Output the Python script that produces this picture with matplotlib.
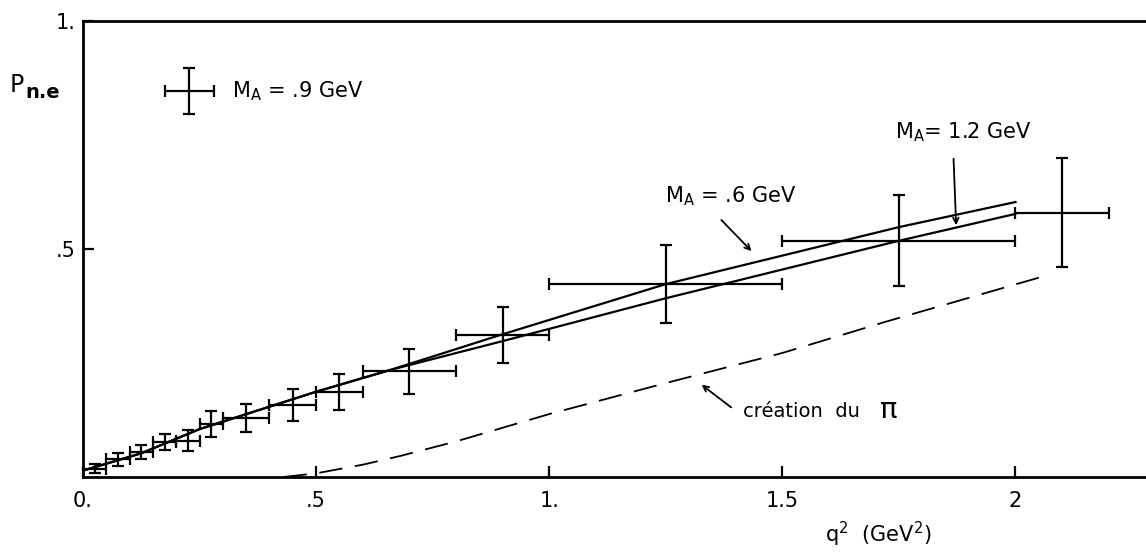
import matplotlib
matplotlib.use('Agg')
import matplotlib.pyplot as plt

plt.rcParams['font.family'] = ['DejaVu Sans']
plt.rcParams['mathtext.default'] = 'regular'

# points de mesure (M_A = .9 GeV)
q2 = [0.025, 0.075, 0.125, 0.175, 0.225, 0.275, 0.35, 0.45, 0.55, 0.7, 0.9, 1.25, 1.75, 2.1]
q2_err = [0.025, 0.025, 0.025, 0.025, 0.025, 0.025, 0.05, 0.05, 0.05, 0.1, 0.1, 0.25, 0.25, 0.1]
p_ne = [0.018, 0.039, 0.055, 0.077, 0.079, 0.116, 0.129, 0.158, 0.186, 0.232, 0.311, 0.423, 0.518, 0.58]
p_err = [0.01, 0.014, 0.016, 0.018, 0.023, 0.028, 0.031, 0.036, 0.04, 0.049, 0.062, 0.085, 0.10, 0.12]

# courbes theoriques
q2_ma06 = [0.0, 0.125, 0.25, 0.5, 0.66, 0.9, 1.25, 1.75, 2.0]
p_ma06 = [0.014, 0.052, 0.105, 0.187, 0.235, 0.313, 0.423, 0.548, 0.603]
q2_ma12 = [0.0, 0.125, 0.25, 0.5, 0.66, 0.9, 1.25, 1.75, 2.0]
p_ma12 = [0.014, 0.052, 0.105, 0.187, 0.235, 0.298, 0.392, 0.518, 0.577]

# creation du pi (tirets)
q2_pi = [0.43, 0.5, 0.6, 0.68, 0.8, 1.0, 1.25, 1.5, 1.72, 2.06]
p_pi = [0.0, 0.008, 0.027, 0.046, 0.078, 0.138, 0.206, 0.272, 0.34, 0.44]

x_ticks = [0, 0.5, 1, 1.5, 2]
x_ticklabels = ['0.', '.5', '1.', '1.5', '2']
y_ticks = [0.5, 1.0]
y_ticklabels = ['.5', '1.']

fig = plt.figure(figsize=(11.46, 5.53), dpi=100)
ax = fig.add_axes([83 / 1146, 1 - 477 / 553, 1 - 83 / 1146, 456 / 553])

ax.plot(q2_ma06, p_ma06, color='black', lw=1.6)
ax.plot(q2_ma12, p_ma12, color='black', lw=1.6)
ax.plot(q2_pi, p_pi, color='black', lw=1.3, ls=(0, (13, 7)))

ax.errorbar(q2, p_ne, xerr=q2_err, yerr=p_err, fmt='none', ecolor='black',
            elinewidth=1.6, capsize=4, capthick=1.6)

# symbole de legende
ax.errorbar([0.228], [0.846], xerr=[0.052], yerr=[0.05], fmt='none', ecolor='black',
            elinewidth=1.6, capsize=4, capthick=1.6)
ax.text(0.32, 0.846, 'M$_A$ = .9 GeV', fontsize=15, va='center', ha='left')

ax.text(1.249, 0.616, 'M$_A$ = .6 GeV', fontsize=15, va='center', ha='left')
ax.annotate('', xy=(1.438, 0.491), xytext=(1.365, 0.568),
            arrowprops=dict(arrowstyle='->', color='black', lw=1.3))

ax.text(1.742, 0.757, 'M$_A$= 1.2 GeV', fontsize=15, va='center', ha='left')
ax.annotate('', xy=(1.873, 0.546), xytext=(1.867, 0.704),
            arrowprops=dict(arrowstyle='->', color='black', lw=1.3))

ax.text(1.416, 0.143, 'création  du', fontsize=14, va='center', ha='left')
ax.text(1.71, 0.148, 'π', fontsize=21, va='center', ha='left')
ax.annotate('', xy=(1.322, 0.206), xytext=(1.395, 0.149),
            arrowprops=dict(arrowstyle='->', color='black', lw=1.3))

ax.text(1.592, -0.125, 'q$^2$  (GeV$^2$)', fontsize=15, va='center', ha='left', clip_on=False)
fig.text(10 / 1146, 1 - 85 / 553, 'P', fontsize=17, va='center', ha='left')
fig.text(25 / 1146, 1 - 92 / 553, 'n.e', fontsize=14, va='center', ha='left', fontweight='bold')

ax.set_xlim(0, 2.28)
ax.set_ylim(0, 1)
ax.set_xticks(x_ticks)
ax.set_xticklabels(x_ticklabels)
ax.set_yticks(y_ticks)
ax.set_yticklabels(y_ticklabels)
ax.tick_params(direction='in', length=8, width=1.6, labelsize=15)
ax.tick_params(axis='x', pad=10)
ax.tick_params(axis='y', pad=5)

for side in ['left', 'bottom', 'top']:
    ax.spines[side].set_linewidth(2)
ax.spines['right'].set_visible(False)

fig.savefig('out.png', dpi=100)
